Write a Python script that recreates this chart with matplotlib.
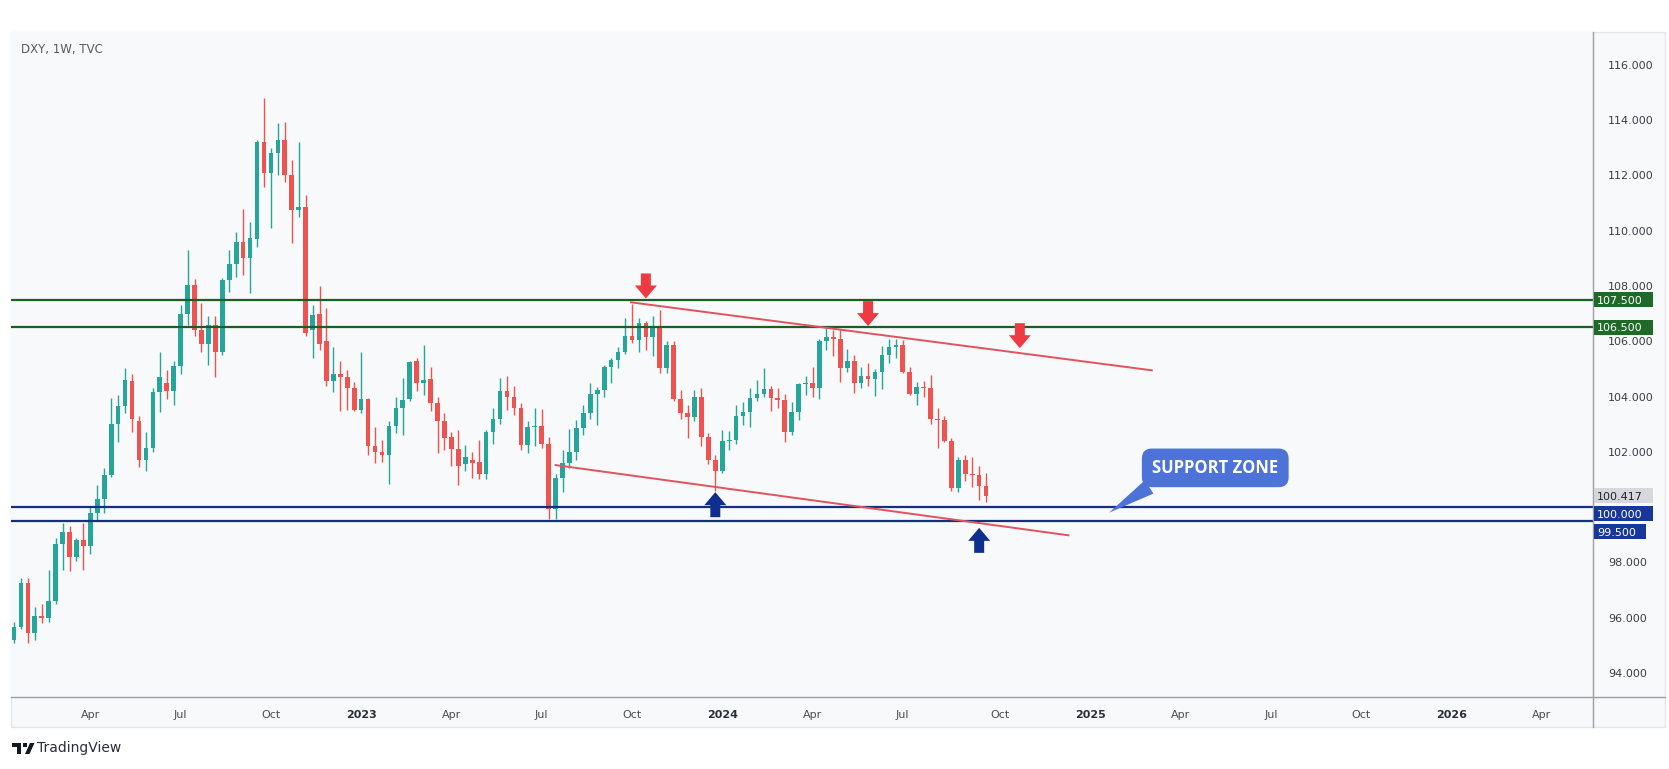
import matplotlib
matplotlib.use("Agg")
import matplotlib.pyplot as plt
import matplotlib.dates as mdates
import matplotlib.transforms as mtransforms
from matplotlib.patches import Polygon, Rectangle
from matplotlib.lines import Line2D
from matplotlib.ticker import FormatStrFormatter
import numpy as np
import pandas as pd

# ---------------- data (weekly DXY, TVC) ----------------
start_date = "2022-01-17"
opens = [95.20, 95.65, 97.27, 95.45, 96.05, 96.00, 96.60, 98.65, 99.10, 98.20,
         98.80, 98.60, 99.80, 100.30, 101.15, 103.00, 103.66, 104.55, 103.10, 101.70,
         102.15, 104.15, 104.50, 104.20, 105.10, 107.00, 108.05, 106.40, 105.90, 106.60,
         105.60, 108.20, 108.80, 109.60, 109.00, 109.70, 113.20, 112.10, 112.80, 113.30,
         112.00, 110.75, 110.85, 106.40, 107.00, 106.00, 104.55, 104.80, 104.70, 104.30,
         103.50, 103.90, 102.20, 102.00, 101.90, 102.95, 103.60, 103.90, 105.30, 104.50,
         104.65, 103.75, 103.10, 102.55, 102.10, 101.55, 101.70, 101.65, 101.20, 102.70,
         103.20, 104.20, 104.00, 103.60, 102.25, 102.90, 102.93, 102.30, 99.95, 101.05,
         101.60, 102.00, 102.85, 103.40, 104.10, 104.25, 105.07, 105.33, 105.60, 106.20,
         106.05, 106.65, 106.15, 106.55, 105.05, 105.85, 103.90, 103.40, 103.27, 104.00,
         102.55, 101.70, 101.30, 102.40, 102.43, 103.30, 103.45, 103.95, 104.10, 104.28,
         103.95, 103.88, 102.70, 103.45, 104.45, 104.50, 104.30, 106.00, 106.15, 106.10,
         105.05, 105.30, 104.50, 104.75, 104.65, 104.90, 105.50, 105.80, 105.87, 104.90,
         104.10, 104.35, 104.30, 103.20, 103.15, 102.40, 100.70, 101.70, 101.20, 101.15,
         100.75]
highs = [95.85, 97.44, 97.44, 96.40, 96.50, 97.73, 98.90, 99.43, 99.30, 98.90,
         99.43, 100.00, 100.80, 101.40, 103.95, 104.06, 105.04, 104.80, 103.30, 102.70,
         104.30, 105.60, 104.97, 105.30, 107.30, 109.30, 108.25, 107.40, 106.90, 106.90,
         108.30, 109.30, 109.96, 110.80, 110.30, 113.30, 114.80, 113.00, 113.90, 113.95,
         112.56, 113.20, 111.30, 107.30, 108.00, 107.20, 105.80, 105.27, 104.95, 104.54,
         105.63, 103.95, 102.90, 102.43, 103.10, 104.00, 104.67, 105.30, 105.40, 105.88,
         105.08, 104.00, 103.40, 102.73, 102.80, 102.25, 102.00, 102.43, 102.80, 103.60,
         104.67, 104.73, 104.39, 103.78, 103.10, 103.60, 103.55, 102.55, 101.20, 102.07,
         102.83, 103.16, 103.70, 104.50, 104.35, 105.15, 105.40, 105.80, 106.85, 107.35,
         106.85, 106.75, 106.90, 107.14, 106.00, 106.00, 104.24, 103.70, 104.24, 104.30,
         102.68, 101.90, 102.80, 102.77, 103.70, 103.82, 104.30, 104.60, 105.04, 104.37,
         104.30, 104.10, 103.82, 104.50, 104.73, 105.08, 106.10, 106.50, 106.41, 106.45,
         105.73, 105.50, 105.08, 105.20, 105.00, 105.84, 106.10, 106.10, 106.05, 105.08,
         104.54, 104.58, 104.78, 103.60, 103.30, 102.50, 101.80, 101.90, 101.83, 101.47,
         101.23]
lows = [95.10, 95.60, 95.10, 95.20, 95.80, 95.85, 96.50, 97.73, 97.70, 98.05,
        97.73, 98.30, 99.50, 99.80, 101.10, 102.36, 103.40, 102.70, 101.45, 101.30,
        102.00, 103.45, 103.90, 103.70, 104.80, 106.60, 106.20, 105.60, 105.15, 104.70,
        105.50, 107.80, 108.33, 108.40, 107.75, 109.40, 111.60, 110.10, 112.00, 111.77,
        109.56, 110.50, 106.20, 105.40, 105.70, 104.40, 104.15, 103.48, 103.50, 103.46,
        103.40, 101.90, 101.58, 101.65, 100.82, 102.68, 102.60, 103.85, 104.20, 104.06,
        103.46, 101.96, 102.07, 101.47, 100.80, 101.30, 101.06, 101.00, 101.00, 102.30,
        103.00, 103.50, 103.34, 102.05, 101.96, 102.20, 102.14, 99.57, 99.57, 100.56,
        101.40, 101.70, 102.60, 103.20, 102.97, 104.00, 104.50, 105.04, 105.55, 105.94,
        105.60, 105.70, 105.45, 104.85, 104.87, 103.85, 103.20, 102.50, 103.10, 102.20,
        101.55, 100.60, 101.25, 102.07, 102.30, 102.97, 102.90, 103.85, 104.00, 103.46,
        103.60, 102.37, 102.60, 103.16, 104.06, 104.00, 103.90, 105.70, 105.45, 104.54,
        104.90, 104.13, 104.30, 104.37, 104.03, 104.28, 105.20, 105.40, 104.85, 104.05,
        103.70, 104.00, 103.00, 102.15, 102.37, 100.60, 100.56, 100.93, 100.74, 100.26,
        100.20]
closes = [95.65, 97.27, 95.45, 96.05, 96.00, 96.60, 98.65, 99.10, 98.20, 98.80,
          98.60, 99.80, 100.30, 101.15, 103.00, 103.66, 104.60, 103.20, 101.70, 102.15,
          104.15, 104.70, 104.20, 105.10, 107.00, 108.05, 106.40, 105.90, 106.60, 105.60,
          108.20, 108.80, 109.60, 109.00, 109.75, 113.20, 112.10, 112.80, 113.30, 112.00,
          110.75, 110.85, 106.30, 106.95, 105.90, 104.55, 104.80, 104.70, 104.30, 103.50,
          103.90, 102.20, 102.00, 101.90, 102.95, 103.60, 103.88, 105.25, 104.50, 104.60,
          103.75, 103.10, 102.50, 102.10, 101.50, 101.80, 101.60, 101.20, 102.70, 103.20,
          104.20, 104.00, 103.60, 102.25, 102.90, 102.93, 102.30, 99.95, 101.05, 101.60,
          102.00, 102.85, 103.40, 104.10, 104.25, 105.07, 105.33, 105.60, 106.20, 106.05,
          106.65, 106.15, 106.55, 105.05, 105.85, 103.90, 103.40, 103.27, 104.00, 102.55,
          101.70, 101.30, 102.40, 102.43, 103.30, 103.45, 103.95, 104.10, 104.28, 103.95,
          103.88, 102.70, 103.45, 104.45, 104.50, 104.30, 106.00, 106.15, 106.10, 105.05,
          105.30, 104.50, 104.75, 104.65, 104.90, 105.50, 105.80, 105.87, 104.90, 104.10,
          104.35, 104.30, 103.20, 103.15, 102.40, 100.70, 101.70, 101.20, 101.15, 100.75,
          100.417]

resistance_levels = [107.5, 106.5]
support_levels = [100.0, 99.5]
last_price = 100.417
# the 100.000 scale label is hidden behind the price boxes in the reference
y_ticks = [94, 96, 98, 102, 104, 106, 108, 110, 112, 114, 116]

upper_trend_dates = ["2023-10-01", "2025-03-09"]
upper_trend_prices = [107.41, 104.95]
lower_trend_dates = ["2023-07-17", "2024-12-15"]
lower_trend_prices = [101.52, 98.98]

red_arrow_dates = ["2023-10-16", "2024-05-27", "2024-10-27"]
red_arrow_prices = [107.55, 106.55, 105.75]
blue_arrow_dates = ["2023-12-25", "2024-09-16"]
blue_arrow_prices = [100.54, 99.25]

callout_text = "SUPPORT ZONE"
callout_text_date, callout_text_price = "2025-05-12", 101.42
callout_tip_date, callout_tip_price = "2025-01-25", 99.8

# ---------------- styling ----------------
W, H = 1669, 769
GREEN = "#26a69a"
RED = "#ef5350"
LEVEL_GREEN = "#1d5e22"
LEVEL_NAVY = "#14307f"
BOX_GREEN = "#1f6a28"
BOX_NAVY = "#17389a"
TREND = "#e2525f"
ARROW_RED = "#ee3b43"
ARROW_BLUE = "#0f2f8e"
CALLOUT = "#4d72d8"
BG = "#f8f9fb"

fig = plt.figure(figsize=(W / 100, H / 100), dpi=100, facecolor="white")


def fx(x):
    return x / W


def fy(y):
    return 1 - y / H


# panel background
fig.patches.append(Rectangle((fx(11), fy(727)), fx(1665) - fx(11), fy(32) - fy(727),
                             transform=fig.transFigure, facecolor=BG,
                             edgecolor="#e4e6eb", lw=1, zorder=-5))

ax = fig.add_axes([fx(11), fy(697), fx(1593) - fx(11), fy(32) - fy(697)])
ax.set_facecolor(BG)
for s in ax.spines.values():
    s.set_visible(False)

dates = pd.date_range(start_date, periods=len(opens), freq="7D")
d = mdates.date2num(dates)
o = np.array(opens)
h = np.array(highs)
l = np.array(lows)
c = np.array(closes)
cols = np.where(c >= o, GREEN, RED)

ax.vlines(d, l, h, colors=cols, lw=1.0, zorder=2)
ax.bar(d, np.maximum(np.abs(c - o), 0.035), bottom=np.minimum(o, c), width=4.7,
       color=cols, linewidth=0, zorder=3)

d0 = d[0]
ax.set_xlim(d0 - 3.0, d0 + 1591.8)
ax.set_ylim(93.13, 117.19)

for lv in resistance_levels:
    ax.axhline(lv, color=LEVEL_GREEN, lw=1.6, zorder=4)
for lv in support_levels:
    ax.axhline(lv, color=LEVEL_NAVY, lw=1.6, zorder=4)

ax.plot(mdates.datestr2num(upper_trend_dates), upper_trend_prices, color=TREND, lw=1.4, zorder=4)
ax.plot(mdates.datestr2num(lower_trend_dates), lower_trend_prices, color=TREND, lw=1.4, zorder=4)


def block_arrow(xd, yd, color, down=True):
    verts = np.array([(0, 0), (11, 13), (5, 13), (5, 25), (-5, 25), (-5, 13), (-11, 13)], float)
    if not down:
        verts[:, 1] *= -1
    trans = fig.dpi_scale_trans + mtransforms.ScaledTranslation(xd, yd, ax.transData)
    ax.add_patch(Polygon(verts / 100.0, closed=True, transform=trans, facecolor=color,
                         edgecolor="none", zorder=6, clip_on=False))


for dt, pr in zip(red_arrow_dates, red_arrow_prices):
    block_arrow(mdates.datestr2num(dt), pr, ARROW_RED, down=True)
for dt, pr in zip(blue_arrow_dates, blue_arrow_prices):
    block_arrow(mdates.datestr2num(dt), pr, ARROW_BLUE, down=False)

ax.annotate(callout_text,
            xy=(mdates.datestr2num(callout_tip_date), callout_tip_price),
            xytext=(mdates.datestr2num(callout_text_date), callout_text_price),
            textcoords="data", ha="center", va="center", fontsize=12,
            fontweight="bold", color="white", family=["Open Sans", "DejaVu Sans"],
            bbox=dict(boxstyle="round,pad=0.62,rounding_size=0.6", fc=CALLOUT, ec="none"),
            arrowprops=dict(arrowstyle="wedge,tail_width=0.95,shrink_factor=0.5",
                            fc=CALLOUT, ec="none", relpos=(0.1, 0.0),
                            shrinkA=0, shrinkB=0),
            zorder=7)

# ---------------- axes ticks ----------------
ax.yaxis.tick_right()
ax.set_yticks(y_ticks)
ax.yaxis.set_major_formatter(FormatStrFormatter("%.3f"))
ax.tick_params(axis="y", length=0, pad=11, labelsize=8, labelcolor="#3a3d45")

# x ticks at first weekly bar of each quarter month
tick_pos, tick_lab, tick_bold = [], [], []
for m in pd.date_range("2022-04-01", "2026-06-01", freq="MS"):
    if m.month not in (1, 4, 7, 10):
        continue
    first_bar = m + pd.Timedelta(days=(7 - m.weekday()) % 7)
    tick_pos.append(mdates.date2num(first_bar))
    if m.month == 1:
        tick_lab.append(str(m.year))
        tick_bold.append(True)
    else:
        tick_lab.append(m.strftime("%b"))
        tick_bold.append(False)
ax.set_xticks(tick_pos)
ax.set_xticklabels(tick_lab)
ax.tick_params(axis="x", length=0, pad=9, labelsize=8, labelcolor="#4a4d55")
for t, b in zip(ax.get_xticklabels(), tick_bold):
    if b:
        t.set_fontweight("bold")
        t.set_color("#2a2e39")

# axis lines
fig.add_artist(Line2D([fx(1593), fx(1593)], [fy(32), fy(727)], transform=fig.transFigure,
                      color="#9a9ea6", lw=1.0))
fig.add_artist(Line2D([fx(11), fx(1665)], [fy(697), fy(697)], transform=fig.transFigure,
                      color="#9a9ea6", lw=1.0))

# ---------------- price label boxes ----------------
fig.canvas.draw()
labels = [(resistance_levels[0], BOX_GREEN, "white", 1653),
          (resistance_levels[1], BOX_GREEN, "white", 1653),
          (last_price, "#d6d8de", "#222222", 1653),
          (support_levels[0], BOX_NAVY, "white", 1653),
          (support_levels[1], BOX_NAVY, "white", 1646)]
ys = []
for p, *_ in labels:
    disp = ax.transData.transform((d0, p))
    ys.append(H - disp[1])
order = np.argsort(ys)
placed = {}
prev = -1e9
for k in order:
    y = max(ys[k], prev + 18)
    placed[k] = y
    prev = y
for k, (p, fc, tc, xr) in enumerate(labels):
    y = placed[k]
    fig.patches.append(Rectangle((fx(1594), fy(y + 7.5)), fx(xr) - fx(1594), fy(y - 7.5) - fy(y + 7.5),
                                 transform=fig.transFigure, facecolor=fc, edgecolor="none", zorder=5))
    fig.text(fx(1597), fy(y), f"{p:.3f}", color=tc, fontsize=8, ha="left", va="center_baseline",
             zorder=6)

# ---------------- header / footer ----------------
fig.text(fx(21), fy(49), "DXY, 1W, TVC", fontsize=8.5, color="#555961", ha="left", va="center")
fig.text(fx(37), fy(748), "TradingView", fontsize=10, color="#2a2e39", ha="left", va="center")
logo = "#131722"
fig.patches.append(Rectangle((fx(12), fy(747)), fx(21) - fx(12), fy(743) - fy(747),
                             transform=fig.transFigure, facecolor=logo, edgecolor="none"))
fig.patches.append(Rectangle((fx(17), fy(754)), fx(21) - fx(17), fy(743) - fy(754),
                             transform=fig.transFigure, facecolor=logo, edgecolor="none"))
fig.patches.append(Polygon([(fx(30), fy(743)), (fx(34.5), fy(743)), (fx(29.5), fy(754)), (fx(25), fy(754))],
                           closed=True, transform=fig.transFigure, facecolor=logo, edgecolor="none"))
fig.patches.append(Polygon([(fx(23), fy(743)), (fx(26.5), fy(743)), (fx(26.5), fy(746.5)), (fx(23), fy(746.5))],
                           closed=True, transform=fig.transFigure, facecolor=logo, edgecolor="none"))

fig.savefig("out.png", dpi=100, facecolor="white")
